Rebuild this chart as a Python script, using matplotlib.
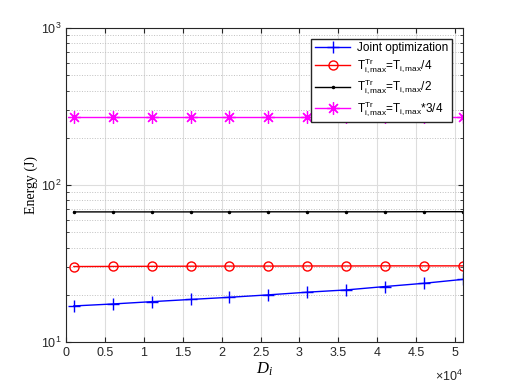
import matplotlib.pyplot as plt
from matplotlib.ticker import FuncFormatter, LogLocator, NullFormatter

plt.rcParams['font.family'] = ['Liberation Sans', 'DejaVu Sans']
plt.rcParams['mathtext.fontset'] = 'custom'
plt.rcParams['mathtext.rm'] = 'Liberation Sans'
plt.rcParams['mathtext.it'] = 'Liberation Serif:italic'

D = [1000, 6000, 11000, 16000, 21000, 26000, 31000, 36000, 41000, 46000, 51000]
joint = [17.0, 17.5, 18.1, 18.7, 19.3, 20.0, 20.8, 21.5, 22.6, 23.7, 25.1]
quarter = [30.3, 30.35, 30.4, 30.45, 30.5, 30.5, 30.55, 30.55, 30.6, 30.6, 30.6]
half = [67.5, 67.5, 67.5, 67.5, 67.5, 67.6, 67.6, 67.6, 67.6, 67.7, 67.7]
three_q = [271, 271, 271, 271, 271, 271, 271, 271, 271, 271, 271]
xticks = [0, 5000, 10000, 15000, 20000, 25000, 30000, 35000, 40000, 45000, 50000]

labels = ['Joint optimization',
          r'$\mathrm{T_{i,max}^{Tr}}$=$\mathrm{T_{i,max}}$/4',
          r'$\mathrm{T_{i,max}^{Tr}}$=$\mathrm{T_{i,max}}$/2',
          r'$\mathrm{T_{i,max}^{Tr}}$=$\mathrm{T_{i,max}}$*3/4']

fig = plt.figure(figsize=(5.12, 3.84), dpi=100)
ax = fig.add_axes([0.129, 0.109, 0.775, 0.818])

ax.plot(D, joint, color='blue', marker='+', markersize=9, lw=1, label=labels[0])
ax.plot(D, quarter, color='red', marker='o', markersize=6.5, mfc='none', lw=1, label=labels[1])
ax.plot(D, half, color='black', marker='.', markersize=3, lw=1, label=labels[2])
ax.plot(D, three_q, color='magenta', marker=(8, 2, 0), markersize=9, mew=0.9, lw=1, label=labels[3])

ax.set_yscale('log')
ax.set_ylim(10, 1000)
ax.set_xlim(0, 51000)
ax.set_xticks(xticks)
ax.xaxis.set_major_formatter(FuncFormatter(lambda v, p: '%g' % (v / 1e4)))
ax.text(1.0, -0.085, r'$\times\mathrm{10^4}$', transform=ax.transAxes,
        ha='right', va='top', fontsize=9, color='#262626')
ax.yaxis.set_minor_locator(LogLocator(base=10, subs=range(2, 10)))
ax.yaxis.set_minor_formatter(NullFormatter())

ax.grid(True, which='major', color='#dddddd', lw=0.8)
ax.grid(True, which='minor', axis='y', color='#c0c0c0', ls=':', lw=0.7)
ax.set_axisbelow(True)
ax.tick_params(which='both', direction='in', top=True, right=True, labelsize=9, colors='#262626')
for s in ax.spines.values():
    s.set_color('#262626')

ax.set_xlabel(r'$D_i$', fontsize=12, labelpad=1)
ax.set_ylabel('Energy (J)', fontsize=10, family='Liberation Serif', labelpad=2)

ax.legend(loc='upper right', fontsize=8.5, fancybox=False, edgecolor='#262626',
          framealpha=1, borderpad=0.3, labelspacing=0.2, handlelength=3.0,
          handletextpad=0.6, borderaxespad=0.9)

fig.savefig('out.png', dpi=100)
